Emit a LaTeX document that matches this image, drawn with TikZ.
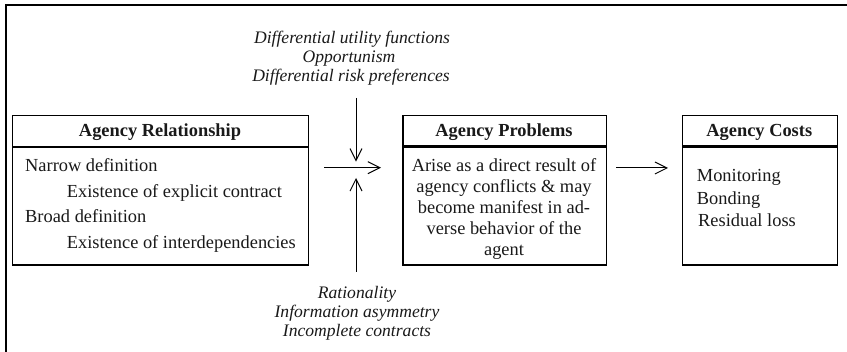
\documentclass[tikz,border=0pt]{standalone}
\usepackage{fontspec}
\setmainfont{Liberation Serif}
\usetikzlibrary{arrows.meta}
\begin{document}
\begin{tikzpicture}[x=1pt,y=-1pt,
  txt/.style={font=\fontsize{18.4}{21}\selectfont, inner sep=0pt, text=black!90},
  hd/.style={txt, font=\fontsize{18.4}{21}\selectfont\bfseries},
  itx/.style={txt, font=\fontsize{17.6}{20}\selectfont\itshape},
  boxpart/.style={draw, line width=1.2pt, inner sep=0pt},
  arr/.style={line width=1pt, -{Straight Barb[length=12pt,width=12pt,line width=1pt]}}]
\useasboundingbox (0,0) rectangle (847,352);
% outer frame (cropped)
\draw[line width=1.8pt] (6,352) -- (6,5) -- (847,5);

% Agency Relationship box
\node[boxpart, anchor=north west, minimum width=296.3pt, minimum height=31pt] (relh) at (11.7,115) {};
\node[boxpart, anchor=north west, minimum width=296.3pt, minimum height=117.3pt] (relb) at (relh.south west) {};
\node[hd, anchor=base] (relt) at (160,136.5) {Agency Relationship};
\node[txt, anchor=base west] (rel1) at (25,171.7) {Narrow definition};
\node[txt, anchor=base west] (rel2) at (66.7,197.3) {Existence of explicit contract};
\node[txt, anchor=base west] (rel3) at (25,223) {Broad definition};
\node[txt, anchor=base west] (rel4) at (66.7,248.3) {Existence of interdependencies};

% Agency Problems box
\node[boxpart, anchor=north west, minimum width=203.4pt, minimum height=30.5pt] (probh) at (402.3,115) {};
\node[boxpart, anchor=north west, minimum width=203.4pt, minimum height=117.8pt] (probb) at (probh.south west) {};
\node[hd, anchor=base] (probt) at (504,136.5) {Agency Problems};
\foreach \t [count=\i] in {Arise as a direct result of, agency conflicts \& may, become manifest in ad-, verse behavior of the, agent}
  \node[txt, anchor=base] (prob\i) at (504,171.7+20.9*\i-20.9) {\t};

% Agency Costs box
\node[boxpart, anchor=north west, minimum width=154.7pt, minimum height=30.5pt] (costh) at (682,115) {};
\node[boxpart, anchor=north west, minimum width=154.7pt, minimum height=117.8pt] (costb) at (costh.south west) {};
\node[hd, anchor=base] (costt) at (759.3,136.5) {Agency Costs};
\node[txt, anchor=base west] (cost1) at (696.7,182) {Monitoring};
\node[txt, anchor=base west] (cost2) at (696.7,204.5) {Bonding};
\node[txt, anchor=base west] (cost3) at (698,227) {Residual loss};

% top labels
\node[itx, anchor=base] (top1) at (352,43.3) {Differential utility functions};
\node[itx, anchor=base] (top2) at (349,62.3) {Opportunism};
\node[itx, anchor=base] (top3) at (351,81.6) {Differential risk preferences};

% bottom labels
\node[itx, anchor=base] (bot1) at (357,298.3) {Rationality};
\node[itx, anchor=base] (bot2) at (357,317.8) {Information asymmetry};
\node[itx, anchor=base] (bot3) at (357,337) {Incomplete contracts};

% connectors
\coordinate (v1) at (356,98);
\coordinate (v2) at (356,161.7);
\coordinate (u1) at (356,271.7);
\coordinate (u2) at (356,178);
\coordinate (h1) at (324,167.7);
\coordinate (h2) at (381,167.7);
\coordinate (r1) at (616,168);
\coordinate (r2) at (668,168);
\draw[arr] (v1) -- (v2);
\draw[arr] (u1) -- (u2);
\draw[arr] (h1) -- (h2);
\draw[arr] (r1) -- (r2);
\end{tikzpicture}
\end{document}
